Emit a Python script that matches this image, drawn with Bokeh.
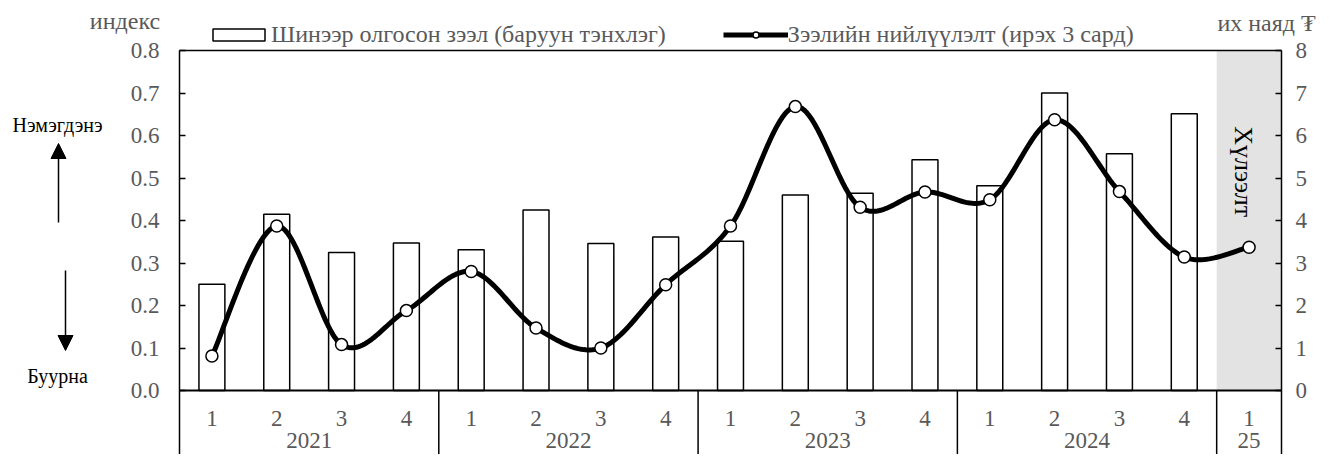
import numpy as np
from bokeh.plotting import figure
from bokeh.models import (Range1d, LinearAxis, FixedTicker, Arrow, NormalHead,
                          Legend, LegendItem, PrintfTickFormatter)
from bokeh.core.properties import value
from bokeh.embed import file_html
from bokeh.resources import INLINE

# ---------------- data ----------------
years = ["2021", "2022", "2023", "2024", "25"]
quarters_per_year = [4, 4, 4, 4, 1]
quarter_labels = ["1", "2", "3", "4", "1", "2", "3", "4", "1", "2", "3", "4",
                  "1", "2", "3", "4", "1"]
# new loans issued, trillion MNT (right axis)
new_loans = [2.50, 4.15, 3.25, 3.47, 3.31, 4.25, 3.46, 3.61, 3.51, 4.60, 4.64, 5.43,
             4.82, 7.00, 5.57, 6.51]
# loan supply index (left axis), next 3 months
supply_index = [0.081, 0.387, 0.108, 0.188, 0.280, 0.147, 0.100, 0.249, 0.387, 0.668,
                0.431, 0.467, 0.449, 0.637, 0.468, 0.314, 0.337]
left_ticks = [0.0, 0.1, 0.2, 0.3, 0.4, 0.5, 0.6, 0.7, 0.8]
right_ticks = [0, 1, 2, 3, 4, 5, 6, 7, 8]
bar_label = "Шинээр олгосон зээл (баруун тэнхлэг)"
line_label = "Зээлийн нийлүүлэлт (ирэх 3 сард)"
left_title = "индекс"
right_title = "их наяд ₮"
forecast_text = "Хүлээлт"
up_text = "Нэмэгдэнэ"
down_text = "Буурна"

FONT = "Liberation Serif"
GRAY = "#595959"

W, H = 1317, 454
n = len(quarter_labels)
xs = np.arange(n) + 0.5

# frame covers the whole canvas; data ranges chosen so the chart area sits inside
px_x = 1102.0 / n          # pixels per category
px_y = 425.0               # pixels per index unit
x0 = -179.0 / px_x
x1 = (W - 179.0) / px_x
y_top = left_ticks[-1] + 50.0 / px_y
y_bottom = -(H - 390.0) / px_y

def X(px):   # canvas pixel -> x data
    return (px - 179.0) / px_x

def Y(py):   # canvas pixel -> y data
    return (390.0 - py) / px_y

p = figure(width=W, height=H, output_backend="svg", toolbar_location=None,
           x_range=Range1d(x0, x1), y_range=Range1d(y_bottom, y_top),
           x_axis_location=None, y_axis_location=None,
           min_border=0, min_border_left=0, min_border_right=0,
           min_border_top=0, min_border_bottom=0, outline_line_color=None,
           background_fill_color="white", border_fill_color="white")
p.grid.visible = False
p.extra_y_ranges = {"loans": Range1d(y_bottom * 10, y_top * 10)}

# forecast shading
p.quad(left=[n - 1], right=[n], bottom=[0], top=[left_ticks[-1]],
       fill_color="#e3e3e3", line_color=None)

bars = p.vbar(x=xs[:len(new_loans)], top=new_loans, width=0.4, bottom=0,
              y_range_name="loans", fill_color="white", line_color="black",
              line_width=1.5)

# smooth line (cubic Bezier through points, Excel style)
def smooth(x, y, k=30):
    P = np.column_stack([x, y])
    m = len(P)
    ox, oy = [], []
    for i in range(m - 1):
        p0 = P[max(i - 1, 0)]
        p1 = P[i]
        p2 = P[i + 1]
        p3 = P[min(i + 2, m - 1)]
        c1 = p1 + (p2 - p0) / 6.0
        c2 = p2 - (p3 - p1) / 6.0
        t = np.linspace(0, 1, k, endpoint=(i == m - 2))[:, None]
        b = ((1 - t) ** 3) * p1 + 3 * ((1 - t) ** 2) * t * c1 + 3 * (1 - t) * t ** 2 * c2 + t ** 3 * p2
        ox.extend(b[:, 0]); oy.extend(b[:, 1])
    return ox, oy

sx, sy = smooth(xs, supply_index)
line_r = p.line(sx, sy, line_width=5, line_color="black", line_join="round")
pts = p.scatter(xs, supply_index, marker="circle", size=12, fill_color="white",
                line_color="black", line_width=1.5)

# top border
p.line([0, n], [left_ticks[-1], left_ticks[-1]], line_width=1.5, line_color="black")

# category table below zero
p.line([0, n], [0, 0], line_width=2, line_color="black")
bounds = np.cumsum(quarters_per_year)[:-1]
p.segment(x0=bounds, y0=[0] * len(bounds), x1=bounds, y1=[y_bottom] * len(bounds),
          line_width=1.5, line_color="black")
p.text(x=xs, y=[Y(418)] * n, text=quarter_labels, text_align="center",
       text_baseline="alphabetic", text_font=value(FONT), text_font_size="23px",
       text_color=GRAY)
starts = np.concatenate([[0], np.cumsum(quarters_per_year)[:-1]])
ycent = starts + np.array(quarters_per_year) / 2.0
p.text(x=ycent, y=[Y(440)] * len(years), text=years, text_align="center",
       text_baseline="alphabetic", text_font=value(FONT), text_font_size="23px",
       text_color=GRAY)

p.text(x=[n - 0.585], y=[0.515], text=[forecast_text], angle=-np.pi / 2,
       text_align="center", text_baseline="middle", text_font=value(FONT),
       text_font_size="26px", text_color="black")

# axes drawn at fixed data positions
lax = LinearAxis(ticker=FixedTicker(ticks=left_ticks),
                 formatter=PrintfTickFormatter(format="%.1f"),
                 fixed_location=0, bounds=(y_bottom, left_ticks[-1]))
rax = LinearAxis(y_range_name="loans", ticker=FixedTicker(ticks=right_ticks),
                 fixed_location=n, bounds=(y_bottom * 10, right_ticks[-1]))
p.add_layout(lax, "left")
p.add_layout(rax, "right")
for a, st in ((lax, 20), (rax, 14)):
    a.axis_line_color = "black"
    a.axis_line_width = 1.5
    a.major_tick_in = 6
    a.major_tick_out = 0
    a.major_tick_line_width = 1.5
    a.minor_tick_line_color = None
    a.major_label_text_font = FONT
    a.major_label_text_font_size = "23px"
    a.major_label_text_color = GRAY
    a.major_label_standoff = st

# axis titles
p.text(x=[X(124.5), X(1266)], y=[Y(20), Y(22)], text=[left_title, right_title],
       text_align="center", text_baseline="middle", text_font=value(FONT),
       text_font_size="24px", text_color=GRAY)

# direction notes
p.text(x=[X(57), X(57)], y=[Y(124), Y(375)], text=[up_text, down_text],
       text_align="center", text_baseline="middle", text_font=value(FONT),
       text_font_size="20px", text_color="black")
p.add_layout(Arrow(end=NormalHead(size=15, fill_color="black", line_color="black"),
                   x_start=X(58), y_start=Y(222), x_end=X(58), y_end=Y(143),
                   line_width=1.5, line_color="black"))
p.add_layout(Arrow(end=NormalHead(size=15, fill_color="black", line_color="black"),
                   x_start=X(65), y_start=Y(270), x_end=X(65), y_end=Y(350),
                   line_width=1.5, line_color="black"))

legend = Legend(items=[LegendItem(label=value(bar_label), renderers=[bars]),
                       LegendItem(label=value(line_label), renderers=[line_r, pts])],
                orientation="horizontal", location=(206, H - 48),
                label_text_font=FONT, label_text_font_size="24px",
                label_text_color=GRAY, glyph_width=65, glyph_height=15,
                label_standoff=0, spacing=57, padding=0, margin=0,
                border_line_color=None, background_fill_alpha=0)
p.add_layout(legend)

open("out.html", "w").write(file_html(p, INLINE))
